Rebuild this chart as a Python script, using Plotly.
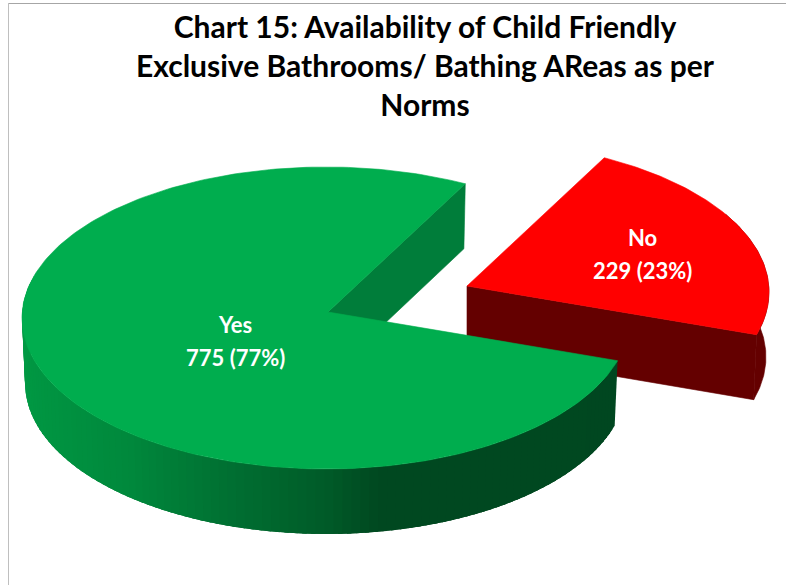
import numpy as np
import plotly.graph_objects as go

categories = ["Yes", "No"]
values = [775, 229]
title_text = "Chart 15: Availability of Child Friendly<br>Exclusive Bathrooms/ Bathing AReas as per<br>Norms"

W, H = 786, 585
CX, CY, RX, RY = 326.0, 318.0, 304.0, 151.0
AX, AY = 328.0, 312.0
K = 0.48
DEPTH = 65.0
BOTTOM_SCALE = 0.99
FIRST_ANGLE = 27.2
EXPLODE = (139.0, -26.0)

GREEN_TOP, GREEN_CUT = "#00AD4E", "#007D3A"
RED_TOP, RED_SIDE = "#FF0000", "#640000"
RIM_STOPS_X = [22, 33, 133, 200, 333, 383, 800]
RIM_STOPS_RGB = [(0, 154, 68), (0, 150, 66), (0, 136, 60), (0, 119, 53), (0, 90, 40), (0, 72, 32), (0, 71, 32)]

total = sum(values)
no_span = 360.0 * values[1] / total
theta1, theta2 = FIRST_ANGLE, FIRST_ANGLE + no_span


def rim_point(theta):
    t = np.radians(theta)
    dx, dy = np.sin(t), -K * np.cos(t)
    x0, y0 = AX - CX, AY - CY
    a = (dx / RX) ** 2 + (dy / RY) ** 2
    b = 2 * (x0 * dx / RX ** 2 + y0 * dy / RY ** 2)
    c = (x0 / RX) ** 2 + (y0 / RY) ** 2 - 1
    s = (-b + np.sqrt(b * b - 4 * a * c)) / (2 * a)
    return AX + s * dx, AY + s * dy


def arc(start, end, n=90):
    pts = [rim_point(a) for a in np.linspace(start, end, n)]
    return [p[0] for p in pts], [p[1] for p in pts]


def lower(xs, ys):
    return [CX + (x - CX) * BOTTOM_SCALE for x in xs], [y + DEPTH for y in ys]


def poly(xs, ys, color, off=(0, 0), lw=0.6):
    return go.Scatter(
        x=[v + off[0] for v in xs] + [xs[0] + off[0]],
        y=[v + off[1] for v in ys] + [ys[0] + off[1]],
        mode="lines", fill="toself", fillcolor=color,
        line=dict(color=color, width=lw), hoverinfo="skip", showlegend=False,
    )


def rim_color(x):
    r = np.interp(x, RIM_STOPS_X, [c[0] for c in RIM_STOPS_RGB])
    g = np.interp(x, RIM_STOPS_X, [c[1] for c in RIM_STOPS_RGB])
    b = np.interp(x, RIM_STOPS_X, [c[2] for c in RIM_STOPS_RGB])
    return f"rgb({r:.0f},{g:.0f},{b:.0f})"


fig = go.Figure()

# "No" slice (exploded), drawn first because the green slice overlaps it
rx, ry = arc(max(theta1, 60), theta2)
bx, by = lower(rx, ry)
fig.add_trace(poly(rx + bx[::-1], ry + by[::-1], RED_SIDE, EXPLODE))
tx, ty = rim_point(theta2)
cx_low, cy_low = lower([AX, tx], [AY, ty])
fig.add_trace(poly([AX, tx, cx_low[1], cx_low[0]], [AY, ty, cy_low[1], cy_low[0]], RED_SIDE, EXPLODE))
sx, sy = arc(theta1, theta2)
fig.add_trace(poly([AX] + sx, [AY] + sy, RED_TOP, EXPLODE))

# "Yes" slice: cut face, shaded rim, top face
tx, ty = rim_point(theta1)
cx_low, cy_low = lower([AX, tx], [AY, ty])
fig.add_trace(poly([AX, tx, cx_low[1], cx_low[0]], [AY, ty, cy_low[1], cy_low[0]], GREEN_CUT))
angles = np.linspace(theta2, 282, 110)
step = angles[1] - angles[0]
for a0 in angles[:-1]:
    ux, uy = arc(a0, a0 + 2.5 * step, 4)
    lx, ly = lower(ux, uy)
    fig.add_trace(poly(ux + lx[::-1], uy + ly[::-1], rim_color(ux[0]), lw=0))
sx, sy = arc(theta2, theta1 + 360, 240)
fig.add_trace(poly([AX] + sx, [AY] + sy, GREEN_TOP))

label_pos = {"Yes": (235, 324, 357), "No": (642, 237, 270)}
for name, val in zip(categories, values):
    x, y1, y2 = label_pos[name]
    pct = round(100 * val / total)
    for txt, y in ((name, y1), (f"{val} ({pct}%)", y2)):
        fig.add_annotation(x=x, y=y, xref="x", yref="y", text=txt, showarrow=False,
                           font=dict(family="Lato", size=22, color="white", weight="bold"))

fig.update_layout(
    width=W, height=H, margin=dict(l=0, r=0, t=0, b=0),
    paper_bgcolor="white", plot_bgcolor="white", showlegend=False,
    title=dict(text=f"<b>{title_text}</b>", x=425 / W, xanchor="center", y=1 - 38 / H, yanchor="top",
               font=dict(family="Lato", size=30, color="black")),
    xaxis=dict(range=[0, W], visible=False, fixedrange=True),
    yaxis=dict(range=[H, 0], visible=False, fixedrange=True),
    shapes=[
        dict(type="line", xref="x", yref="y", x0=8, x1=W, y0=3.5, y1=3.5, line=dict(color="#A6A6A6", width=1)),
        dict(type="line", xref="x", yref="y", x0=8.5, x1=8.5, y0=3, y1=H, line=dict(color="#BFBFBF", width=1)),
    ],
)

fig.write_html("out.html", config={"displayModeBar": False}, post_script="document.body.style.margin='0';")
